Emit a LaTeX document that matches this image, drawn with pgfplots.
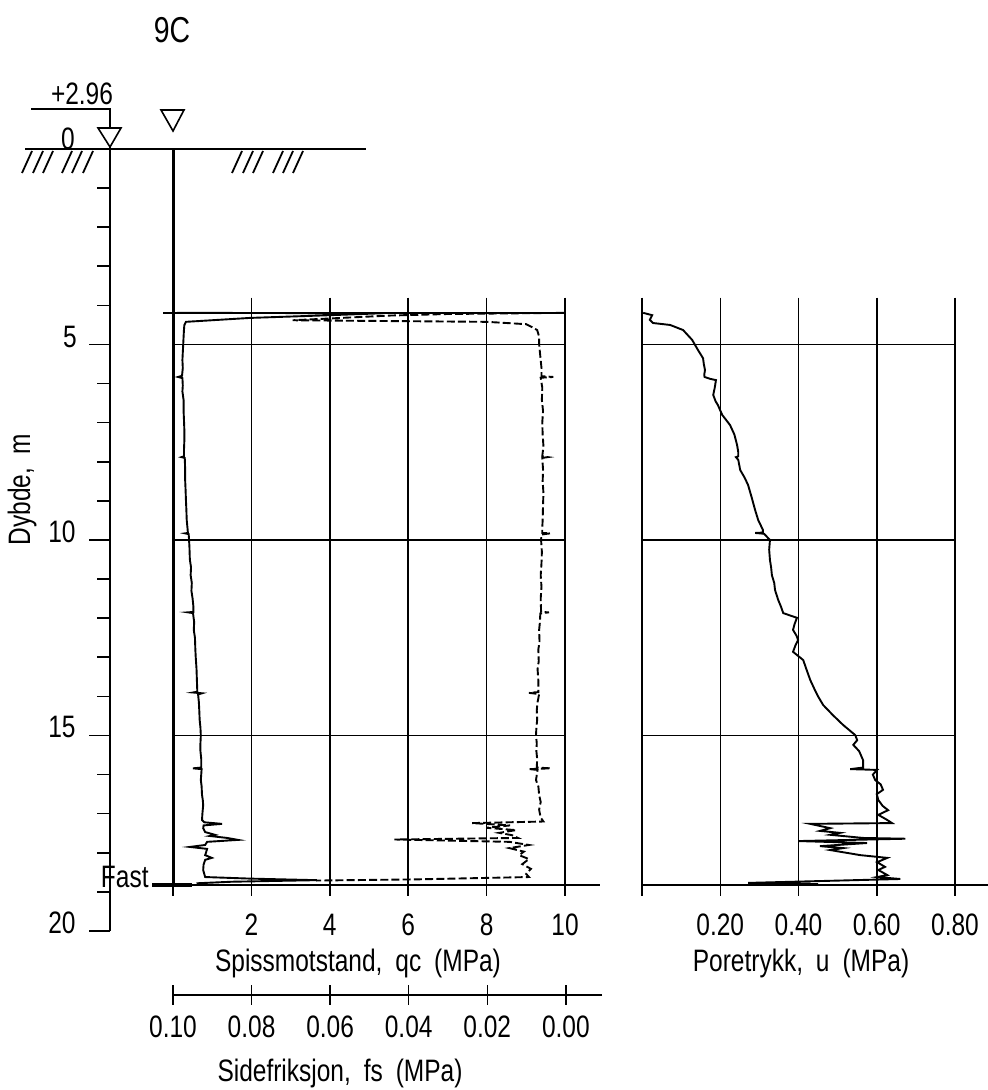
\documentclass[border=0pt]{standalone}
\usepackage{fontspec}
\setmainfont{Liberation Sans}[FakeStretch=0.79, WordSpace=1.9]
\usepackage{pgfplots}
\usepackage{pgfplotstable}
\pgfplotsset{compat=1.18}

% cone resistance qc (MPa) against depth (m)
\pgfplotstableread{
d q
4.19 0.10
4.20 5.36
4.25 4.01
4.32 1.96
4.42 0.33
4.50 0.29
4.62 0.28
4.80 0.27
5.01 0.26
5.20 0.25
5.40 0.24
5.60 0.25
5.80 0.23
5.83 0.13
5.86 0.24
6.05 0.25
6.20 0.24
6.42 0.27
6.70 0.27
6.93 0.28
7.20 0.29
7.44 0.29
7.70 0.28
7.86 0.28
7.88 0.22
7.90 0.30
8.20 0.31
8.47 0.31
8.70 0.32
8.98 0.33
9.20 0.34
9.49 0.35
9.70 0.37
9.82 0.38
9.83 0.31
9.85 0.40
10.00 0.41
10.20 0.42
10.50 0.43
10.70 0.46
10.90 0.45
11.10 0.48
11.30 0.47
11.50 0.50
11.70 0.52
11.84 0.52
11.85 0.38
11.87 0.51
12.10 0.54
12.30 0.53
12.50 0.56
12.80 0.57
13.00 0.58
13.30 0.60
13.60 0.61
13.88 0.62
13.90 0.51
13.92 0.74
13.95 0.64
14.15 0.66
14.35 0.67
14.60 0.68
14.80 0.70
15.00 0.71
15.20 0.70
15.40 0.70
15.60 0.72
15.82 0.72
15.84 0.51
15.86 0.73
16.00 0.72
16.14 0.71
16.30 0.73
16.52 0.74
16.65 0.76
16.78 0.77
17.00 0.75
17.16 0.74
17.22 0.80
17.26 1.25
17.30 0.78
17.37 0.77
17.47 0.82
17.54 1.07
17.57 0.94
17.62 1.38
17.67 1.66
17.72 0.87
17.80 0.82
17.85 0.43
17.90 0.87
18.00 0.84
18.06 0.82
18.13 0.99
18.18 0.82
18.30 0.78
18.44 0.77
18.55 0.80
18.62 0.82
18.66 1.96
18.70 3.67
18.74 1.50
18.78 0.60
}\qcdata

% sleeve friction fs (MPa)
\pgfplotstableread{
d f
4.19 0.0003
4.22 0.0300
4.26 0.0448
4.38 0.0695
4.42 0.0200
4.48 0.0099
4.55 0.0085
4.63 0.0071
4.80 0.0066
5.00 0.0066
5.20 0.0064
5.40 0.0062
5.60 0.0060
5.81 0.0060
5.83 0.0030
5.85 0.0062
6.10 0.0058
6.42 0.0059
6.70 0.0056
7.00 0.0058
7.30 0.0057
7.60 0.0055
7.86 0.0058
7.88 0.0044
7.90 0.0058
8.20 0.0056
8.50 0.0057
8.80 0.0055
9.10 0.0056
9.49 0.0057
9.70 0.0058
9.82 0.0058
9.83 0.0038
9.86 0.0060
10.00 0.0061
10.30 0.0059
10.60 0.0060
10.90 0.0062
11.20 0.0060
11.50 0.0062
11.84 0.0061
11.85 0.0041
11.88 0.0063
12.10 0.0064
12.30 0.0066
12.60 0.0065
12.80 0.0068
13.10 0.0067
13.30 0.0070
13.60 0.0068
13.89 0.0068
13.91 0.0092
13.94 0.0066
14.15 0.0070
14.35 0.0072
14.60 0.0071
14.80 0.0073
15.00 0.0074
15.20 0.0072
15.40 0.0073
15.60 0.0071
15.82 0.0072
15.84 0.0036
15.86 0.0092
15.88 0.0070
16.14 0.0074
16.30 0.0068
16.52 0.0066
16.70 0.0062
16.90 0.0066
17.10 0.0062
17.20 0.0055
17.24 0.0237
17.30 0.0140
17.36 0.0201
17.42 0.0125
17.49 0.0168
17.55 0.0135
17.62 0.0120
17.66 0.0435
17.72 0.0142
17.80 0.0092
17.88 0.0142
17.97 0.0105
18.06 0.0117
18.16 0.0092
18.29 0.0109
18.41 0.0087
18.54 0.0099
18.62 0.0092
18.68 0.0380
18.71 0.0634
}\fsdata

% pore pressure u (MPa)
\pgfplotstableread{
d u
4.19 0.003
4.25 0.026
4.37 0.020
4.45 0.028
4.50 0.072
4.63 0.105
4.88 0.128
5.14 0.143
5.35 0.156
5.50 0.158
5.65 0.161
5.78 0.159
5.83 0.160
5.88 0.175
5.91 0.189
6.10 0.186
6.29 0.182
6.45 0.188
6.55 0.194
6.80 0.205
7.06 0.225
7.30 0.236
7.57 0.243
7.75 0.246
7.86 0.246
7.88 0.240
7.95 0.246
8.21 0.251
8.40 0.262
8.59 0.271
8.90 0.280
9.23 0.289
9.49 0.297
9.74 0.309
9.81 0.309
9.82 0.289
9.84 0.312
10.00 0.327
10.25 0.325
10.51 0.327
10.70 0.330
10.90 0.332
11.10 0.338
11.28 0.340
11.53 0.348
11.70 0.355
11.87 0.361
11.99 0.396
12.15 0.390
12.30 0.386
12.45 0.395
12.56 0.399
12.70 0.392
12.86 0.386
13.07 0.412
13.30 0.420
13.58 0.430
13.84 0.442
14.00 0.450
14.22 0.463
14.48 0.488
14.73 0.514
14.99 0.545
15.12 0.550
15.24 0.540
15.40 0.555
15.63 0.565
15.82 0.565
15.86 0.532
15.88 0.601
16.00 0.590
16.14 0.596
16.25 0.610
16.39 0.616
16.50 0.600
16.65 0.604
16.80 0.615
16.91 0.629
17.03 0.604
17.15 0.625
17.24 0.639
17.26 0.430
17.37 0.481
17.44 0.455
17.49 0.506
17.54 0.481
17.62 0.565
17.64 0.673
17.70 0.399
17.75 0.575
17.83 0.455
17.88 0.514
17.93 0.481
18.06 0.558
18.13 0.627
18.24 0.601
18.36 0.621
18.44 0.604
18.57 0.627
18.62 0.601
18.67 0.660
18.77 0.271
18.80 0.450
}\udata

\pgfplotsset{
  cptpanel/.style={
    scale only axis, anchor=south west,
    y dir=reverse, ymin=3.8, ymax=19.1, height=299.1pt,
    clip=false, axis line style={draw=none}, major tick length=0pt,
    ytick={5,10,15}, yticklabels={},
    grid=major, major grid style={black, line width=0.75pt},
    xticklabel style={anchor=center, yshift=-14.6pt},
  },
}

\begin{document}
\fontsize{15.5}{18}\selectfont
\begin{tikzpicture}
\useasboundingbox (0,0) rectangle (494pt,545pt);

\begin{axis}[cptpanel, at={(86.5pt,97.1pt)}, width=196pt,
  xmin=0, xmax=10, xtick={0,2,4,6,8,10}, xticklabels={,2,4,6,8,10}]
\addplot[black, line width=0.95pt] table[x=q, y=d] {\qcdata};
\end{axis}

\begin{axis}[scale only axis, anchor=south west, at={(86.5pt,97.1pt)},
  width=196pt, height=299.1pt, y dir=reverse, ymin=3.8, ymax=19.1,
  x dir=reverse, xmin=0, xmax=0.1, hide axis, clip=false]
\addplot[black, line width=0.95pt, dash pattern=on 4pt off 1.6pt] table[x=f, y=d] {\fsdata};
\end{axis}

\begin{axis}[cptpanel, at={(321pt,97.1pt)}, width=156.5pt,
  xmin=0, xmax=0.8, xtick={0,0.2,0.4,0.6,0.8}, xticklabels={,0.20,0.40,0.60,0.80}]
\addplot[black, line width=0.95pt] table[x=u, y=d] {\udata};
\end{axis}

% separate scale for sleeve friction
\begin{axis}[scale only axis, anchor=south west, at={(86.5pt,47.5pt)},
  width=214.5pt, height=1pt, ymin=0, ymax=1,
  x dir=reverse, xmin=-0.0092, xmax=0.1,
  axis x line*=bottom, axis y line=none,
  axis line style={black, line width=0.75pt},
  tick align=center, major tick length=10pt, tick style={black, line width=0.75pt},
  xtick={0,0.02,0.04,0.06,0.08,0.1},
  xticklabels={0.00,0.02,0.04,0.06,0.08,0.10},
  xticklabel style={anchor=center, yshift=-11pt}]
\end{axis}

\begin{scope}[x=0.5pt, y=-0.5pt, shift={(0pt,545pt)}]
  % ground surface and hatching
  \draw[line width=1.1pt] (25,149) -- (366,149);
  \foreach \h in {22,33,43,62,72,83,232,243,253,273,283,293}
    \draw[line width=0.9pt] (\h,173) -- (\h+10,151);
  % depth scale
  \draw[line width=0.8pt] (110,147) -- (110,931);
  \foreach \k in {1,...,20}{
    \pgfmathsetmacro{\tl}{ifthenelse(mod(\k,5)==0,89,97)}
    \draw[line width=0.8pt] (\tl,{149+39.1*\k}) -- (110,{149+39.1*\k});
  }
  \draw[line width=0.8pt] (31,109) -- (110,109) -- (110,128);
  \draw[line width=0.8pt] (98,128) -- (121,128) -- (110,147) -- cycle;
  \draw[line width=0.8pt] (161,110) -- (184,110) -- (173,131) -- cycle;
  % borehole, start and stop levels
  \draw[line width=1.5pt] (173,149) -- (173,885);
  \draw[line width=0.8pt] (163,313) -- (565,313);
  \draw[line width=0.8pt] (152,885) -- (600,885);
  \draw[line width=1.6pt] (152,885) -- (192,885);
  \draw[line width=0.8pt] (642,885) -- (988,885);
  % texts
  \node[font=\fontsize{18}{20}\selectfont] at (172,30) {9C};
  \node at (82,94) {+2.96};
  \node at (68,139) {0};
  \node at (70,337) {5};
  \node at (62,532) {10};
  \node at (62,727) {15};
  \node at (62,923) {20};
  \node[rotate=90] at (22,490) {Dybde, m};
  \node[anchor=east, inner sep=0pt] at (149,877) {Fast};
  \node at (358,963) {Spissmotstand, qc (MPa)};
  \node at (340,1073) {Sidefriksjon, fs (MPa)};
  \node at (801,963) {Poretrykk, u (MPa)};
\end{scope}
\end{tikzpicture}
\end{document}
